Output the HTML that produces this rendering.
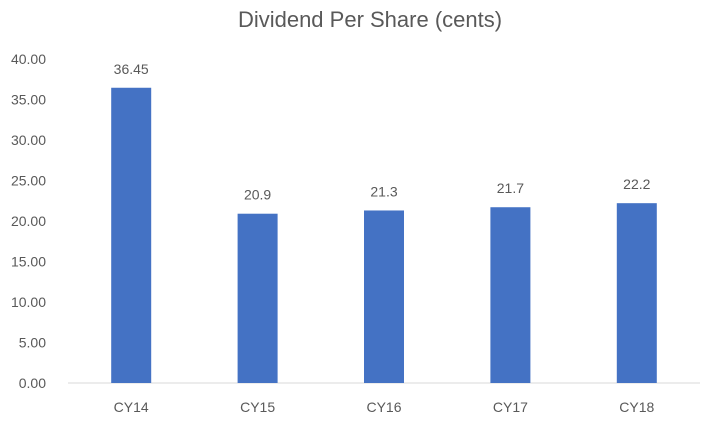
<!DOCTYPE html>
<html><head><meta charset="utf-8"><style>
body{margin:0;background:#fff;}
svg text{font-family:"Liberation Sans",sans-serif;fill:#595959;}
</style></head><body>
<svg width="709" height="428" id="c">
<text x="370" y="27" text-anchor="middle" font-size="22">Dividend Per Share (cents)</text>
<g id="g"></g>
</svg>
<script>
const categories=["CY14","CY15","CY16","CY17","CY18"];
const values=[36.45,20.9,21.3,21.7,22.2];
const valueLabels=["36.45","20.9","21.3","21.7","22.2"];
const ticks=[0,5,10,15,20,25,30,35,40];
const x0=68,x1=700,y0=383,yTop=59,ymax=40;
const ns="http://www.w3.org/2000/svg";
const g=document.getElementById('g');
function y(v){return y0-(v/ymax)*(y0-yTop);}
function xc(i){const w=(x1-x0)/categories.length;return x0+w*(i+0.5);}
function mk(t,a,txt){const e=document.createElementNS(ns,t);for(const k in a)e.setAttribute(k,a[k]);if(txt!==undefined)e.textContent=txt;g.appendChild(e);return e;}
ticks.forEach(t=>{
 const e=mk('text',{x:46,y:y(t)+5,'text-anchor':'end','font-size':14},t.toFixed(2));
 
 
});
const ax=mk('line',{x1:x0,x2:x1,y1:y0,y2:y0,stroke:'#d9d9d9','stroke-width':1});


categories.forEach((c,i)=>{
 const bw=40,cx=xc(i);
 const b=mk('rect',{x:cx-bw/2,y:y(values[i]),width:bw,height:y0-y(values[i]),fill:'#4472c4'});
 
 
 const l=mk('text',{x:cx,y:y(values[i])-14,'text-anchor':'middle','font-size':14},valueLabels[i]);
 
 
 const xl=mk('text',{x:cx,y:y0+29,'text-anchor':'middle','font-size':14},c);
 
 
});
</script>
</body></html>
